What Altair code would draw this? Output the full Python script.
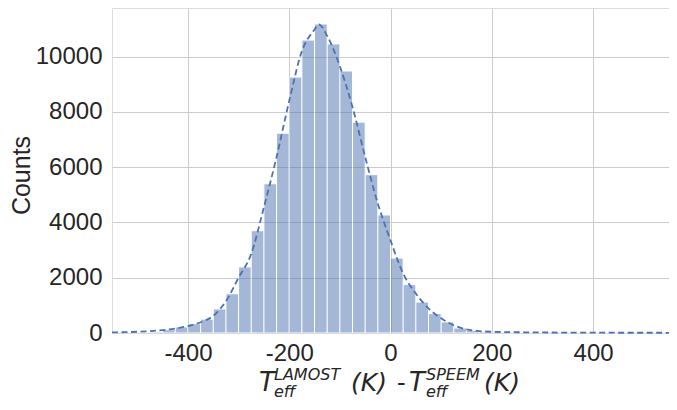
import altair as alt
import pandas as pd

# Histogram bins (25 K wide), left edges and counts
bin_start = list(range(-550, 550, 25))
counts = [8, 12, 20, 40, 120, 217, 337, 500, 870, 1420, 2390, 3700, 5400, 7230,
          9260, 10600, 11180, 10460, 9480, 7630, 5730, 4270, 2710, 1750, 1120,
          700, 400, 180, 95, 50, 30, 22, 16, 12, 10, 8, 6, 5, 4, 3, 3, 2, 2, 1]

# Dashed density curve
curve_x = [-550, -525, -500, -475, -450, -425, -400, -375, -350, -325, -300, -275,
           -250, -225, -200, -175, -150, -142, -125, -100, -75, -50, -25, 0, 25,
           50, 75, 100, 125, 150, 175, 200, 250, 300, 400, 550]
curve_y = [20, 30, 45, 70, 105, 160, 250, 390, 620, 1150, 2000, 2870, 4550, 6370,
           8400, 10200, 10980, 11170, 10750, 9650, 8170, 6370, 4680, 3350, 2150,
           1430, 890, 530, 280, 130, 70, 45, 28, 20, 12, 8]

x_ticks = [-400, -200, 0, 200, 400]
y_ticks = [0, 2000, 4000, 6000, 8000, 10000]

bars_df = pd.DataFrame({"start": bin_start,
                        "end": [b + 25 for b in bin_start],
                        "count": counts})
curve_df = pd.DataFrame({"x": curve_x, "y": curve_y})

BLUE = "#4c72b0"
TXT = "#262626"

xscale = alt.Scale(domain=[-550, 550], nice=False, zero=False)
yscale = alt.Scale(domain=[0, 11760], nice=False)

bars = alt.Chart(bars_df).mark_bar(
    color=BLUE, opacity=0.5, stroke="white", strokeWidth=1, strokeOpacity=1
).encode(
    x=alt.X("start:Q", scale=xscale,
            axis=alt.Axis(values=x_ticks, title=None, labelExpr="'' + datum.value",
                          grid=True, gridColor="#cccccc", gridWidth=1, ticks=False,
                          domain=False, labelFontSize=24, labelFont="Liberation Sans",
                          labelColor=TXT, labelPadding=8)),
    x2="end:Q",
    y=alt.Y("count:Q", scale=yscale,
            axis=alt.Axis(values=y_ticks, title="Counts", labelExpr="'' + datum.value",
                          grid=True, gridColor="#cccccc", gridWidth=1, ticks=False,
                          domain=False, labelFontSize=24, labelFont="Liberation Sans",
                          labelColor=TXT, labelPadding=10,
                          titleFontSize=25, titleFont="Liberation Sans",
                          titleFontWeight="normal", titleColor=TXT,
                          titleX=-91, titleY=167, titleAlign="center",
                          titleBaseline="middle", titleAngle=270)),
    y2=alt.datum(0),
)

line = alt.Chart(curve_df).mark_line(
    color=BLUE, strokeWidth=1.8, strokeDash=[6, 3.5], interpolate="monotone"
).encode(
    x=alt.X("x:Q", scale=xscale),
    y=alt.Y("y:Q", scale=yscale),
)

# x-axis title assembled from pieces (main, superscript, subscript)
title_pieces = [
    ("T", 147, 383, 26),
    ("LAMOST", 162, 372, 16),
    ("eff", 162, 389, 16),
    ("(K)", 239, 383, 25),
    ("-", 285, 383, 24),
    ("T", 297, 383, 26),
    ("SPEEM", 314, 372, 16),
    ("eff", 314, 389, 16),
    ("(K)", 372, 383, 25),
]

layers = [bars, line]
for txt, px, py, fs in title_pieces:
    italic = txt != "-"
    layers.append(
        alt.Chart(pd.DataFrame({"t": [txt]})).mark_text(
            align="left", baseline="alphabetic", fontSize=fs,
            font="DejaVu Sans", fontStyle="italic" if italic else "normal",
            color=TXT
        ).encode(text="t:N", x=alt.value(px), y=alt.value(py))
    )

chart = alt.layer(*layers).properties(
    width=557, height=325,
    autosize=alt.AutoSizeParams(type="none"),
    padding={"left": 104, "top": 0, "right": 0, "bottom": 68},
).configure_view(stroke="#cccccc", strokeWidth=1).configure(background="white")

chart.save("out.html", embed_options={"renderer": "svg", "actions": False})
